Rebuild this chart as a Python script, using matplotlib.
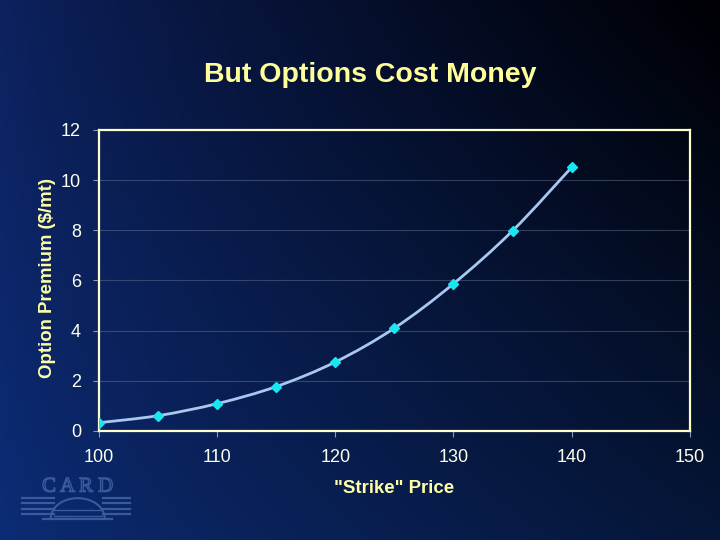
import numpy as np
import matplotlib
matplotlib.use("Agg")
import matplotlib.pyplot as plt
import matplotlib.patheffects as pe
from matplotlib.path import Path
from matplotlib.patches import PathPatch, Arc
from matplotlib.lines import Line2D

strike = [100, 105, 110, 115, 120, 125, 130, 135, 140]
premium = [0.33, 0.61, 1.09, 1.77, 2.75, 4.10, 5.87, 7.98, 10.51]
xticks = [100, 110, 120, 130, 140, 150]
yticks = [0, 2, 4, 6, 8, 10, 12]

title = "But Options Cost Money"
xlabel = '"Strike" Price'
ylabel = "Option Premium ($/mt)"

plt.rcParams['font.family'] = ['Liberation Sans', 'DejaVu Sans']

fig = plt.figure(figsize=(7.2, 5.4), dpi=100)

# background gradient
bg = fig.add_axes([0, 0, 1, 1], zorder=-10)
h, w = 270, 360
xx = np.linspace(0, 1, w)[None, :]
yy = np.linspace(0, 1, h)[:, None]  # 0 top, 1 bottom
tl = np.array([13, 34, 96]) / 255
bl = np.array([12, 44, 118]) / 255
tr = np.array([0, 0, 4]) / 255
br = np.array([6, 22, 56]) / 255
t = xx ** 0.8
img = ((1 - t)[..., None] * ((1 - yy)[..., None] * tl + yy[..., None] * bl)
       + t[..., None] * ((1 - yy)[..., None] * tr + yy[..., None] * br))
bg.imshow(img, aspect='auto', extent=[0, 1, 0, 1], origin='upper')
bg.set_axis_off()

ax = fig.add_axes([0.1375, 0.2019, 0.8205, 0.5574])
ax.patch.set_alpha(0)
ax.set_xlim(100, 150)
ax.set_ylim(0, 12)
ax.set_xticks(xticks)
ax.set_yticks(yticks)
ax.tick_params(axis='both', colors='#8899bb', length=4, width=0.8, direction='out',
               labelcolor='#fffff0', labelsize=13)
ax.tick_params(axis='x', pad=9)
ax.tick_params(axis='y', pad=9)
for s in ax.spines.values():
    s.set_color('#ffffcc')
    s.set_linewidth(1.6)
ax.yaxis.grid(True, color='#6b7a99', linewidth=0.8, alpha=0.45)
ax.set_axisbelow(True)

# smooth line (Catmull-Rom -> Bezier) through the data points
pts = np.column_stack([strike, premium]).astype(float)
verts = [tuple(pts[0])]
codes = [Path.MOVETO]
n = len(pts)
for i in range(n - 1):
    p0 = pts[i - 1] if i > 0 else pts[i]
    p1 = pts[i]
    p2 = pts[i + 1]
    p3 = pts[i + 2] if i + 2 < n else pts[i + 1]
    c1 = p1 + (p2 - p0) / 6.0
    c2 = p2 - (p3 - p1) / 6.0
    verts += [tuple(c1), tuple(c2), tuple(p2)]
    codes += [Path.CURVE4] * 3
ax.add_patch(PathPatch(Path(verts, codes), facecolor='none', edgecolor='#a8c8f0',
                       linewidth=2.0, zorder=3))
ax.plot(strike, premium, linestyle='none', marker='D', markersize=5.5,
        color='#19e6f0', markeredgecolor='#19e6f0', zorder=4)

fig.text(0.514, 0.862, title, ha='center', va='center', fontsize=20.5,
         fontweight='bold', color='#ffff99')
fig.text(0.548, 0.095, xlabel, ha='center', va='center', fontsize=13.4,
         fontweight='bold', color='#ffffa8')
fig.text(0.066, 0.485, ylabel, ha='center', va='center', fontsize=13.4,
         fontweight='bold', color='#ffffa8', rotation=90)

# CARD logo (decorative)
logo_c = '#3a5a9e'
fig.text(0.108, 0.098, 'C A R D', ha='center', va='center', fontsize=15,
         family='Liberation Serif', color='none',
         path_effects=[pe.withStroke(linewidth=1.0, foreground=logo_c)])
for yy_ in [0.078, 0.068, 0.058, 0.048]:
    fig.add_artist(Line2D([0.03, 0.075], [yy_, yy_], color=logo_c, lw=1.6, transform=fig.transFigure))
    fig.add_artist(Line2D([0.143, 0.18], [yy_, yy_], color=logo_c, lw=1.6, transform=fig.transFigure))
fig.add_artist(Arc((0.108, 0.040), 0.075, 0.075, theta1=0, theta2=180, color=logo_c, lw=1.5,
                   transform=fig.transFigure))
for yy_ in [0.055, 0.045]:
    fig.add_artist(Line2D([0.075, 0.142], [yy_, yy_], color=logo_c, lw=1.0, transform=fig.transFigure))
fig.add_artist(Line2D([0.06, 0.155], [0.038, 0.038], color=logo_c, lw=1.6, transform=fig.transFigure))

fig.savefig('out.png', dpi=100)
